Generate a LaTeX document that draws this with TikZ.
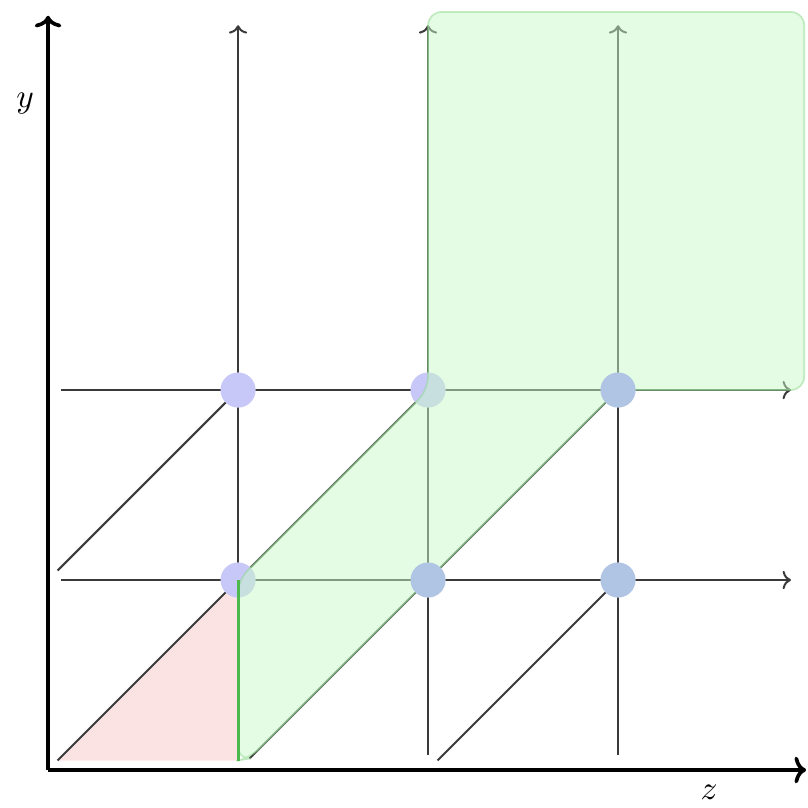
\documentclass[tikz,border=0pt]{standalone}
\usepackage{tikz}
\usetikzlibrary{arrows.meta,positioning}
\definecolor{mint}{HTML}{C7F9C7}
\definecolor{mintedge}{HTML}{8FD88F}
\definecolor{leaf}{HTML}{4DB84D}
\definecolor{blush}{HTML}{FCE3E3}
\definecolor{lavender}{HTML}{C8C8F8}
\definecolor{steel}{HTML}{B0C4E4}
\definecolor{gridgray}{HTML}{3A3A3A}
\tikzset{
  axisline/.style={
    -{To[length=3.5pt,width=8pt]}, line width=1.1pt, color=black
  },
  gridline/.style={
    line width=0.6pt, color=gridgray
  },
  gridarrow/.style={
    gridline, -{To[length=2.5pt,width=5.5pt]}
  },
  latticedot/.style={
    circle, fill=#1, draw=none, minimum size=0.37cm, inner sep=0pt
  },
  latticedot/.default=steel,
  axislabel/.style={
    font=\normalsize, inner sep=0pt
  },
}

\begin{document}
\begin{tikzpicture}[x=2cm,y=2cm]
  \useasboundingbox (-0.253,-0.2) rectangle (3.995,4.053);

  % lattice points
  \coordinate (o) at (0,0);
  \coordinate (p11) at (1,1);
  \coordinate (p21) at (2,1);
  \coordinate (p31) at (3,1);
  \coordinate (p12) at (1,2);
  \coordinate (p22) at (2,2);
  \coordinate (p32) at (3,2);

  % free line ends
  \coordinate (ytop) at (0,3.97);
  \coordinate (zend) at (3.99,0);
  \coordinate (v1b) at (1,0.08);  \coordinate (v1t) at (1,3.92);
  \coordinate (v2b) at (2,0.08);  \coordinate (v2t) at (2,3.92);
  \coordinate (v3b) at (3,0.08);  \coordinate (v3t) at (3,3.92);
  \coordinate (h1l) at (0.07,1);  \coordinate (h1r) at (3.91,1);
  \coordinate (h2l) at (0.07,2);  \coordinate (h2r) at (3.91,2);
  \coordinate (d1b) at (0.05,1.05);
  \coordinate (d2b) at (0.05,0.05);
  \coordinate (d3b) at (1.06,0.06);
  \coordinate (d4b) at (2.05,0.05);
  \coordinate (g1) at (1,0.05);
  \coordinate (gtl) at (2,3.99);
  \coordinate (gtr) at (3.98,3.99);
  \coordinate (gbr) at (3.98,2);

  % red triangle
  \fill[blush] (d2b) -- (g1) -- (p11) -- cycle;

  % grid
  \draw[gridarrow] (v1b) -- (v1t);
  \draw[gridarrow] (v2b) -- (v2t);
  \draw[gridarrow] (v3b) -- (v3t);
  \draw[gridarrow] (h1l) -- (h1r);
  \draw[gridarrow] (h2l) -- (h2r);
  \draw[gridline] (d1b) -- (p12);
  \draw[gridline] (d2b) -- (p22);
  \draw[gridline] (d3b) -- (p32);
  \draw[gridline] (d4b) -- (p31);

  % soft points
  \node[latticedot=lavender] (c12) at (p12) {};
  \node[latticedot=lavender] (c22) at (p22) {};
  \node[latticedot=lavender] (c11) at (p11) {};

  % green region
  \fill[mint, fill opacity=0.5, draw=mintedge, draw opacity=0.5,
        line width=0.5pt, rounded corners=4pt]
    (g1) -- (p11) -- (p22) -- (gtl) -- (gtr) -- (gbr) -- (p32)
    -- (p21) -- (d3b) -- cycle;
  \draw[leaf, line width=0.9pt] (g1) -- (p11);

  % solid points
  \node[latticedot] (c32) at (p32) {};
  \node[latticedot] (c21) at (p21) {};
  \node[latticedot] (c31) at (p31) {};

  % axes
  \draw[axisline] (o) -- (ytop);
  \draw[axisline] (o) -- (zend);
  \node[axislabel] (ylab) at (-0.12,3.51) {$y$};
  \node[axislabel] (zlab) at (3.48,-0.12) {$z$};
\end{tikzpicture}
\end{document}
